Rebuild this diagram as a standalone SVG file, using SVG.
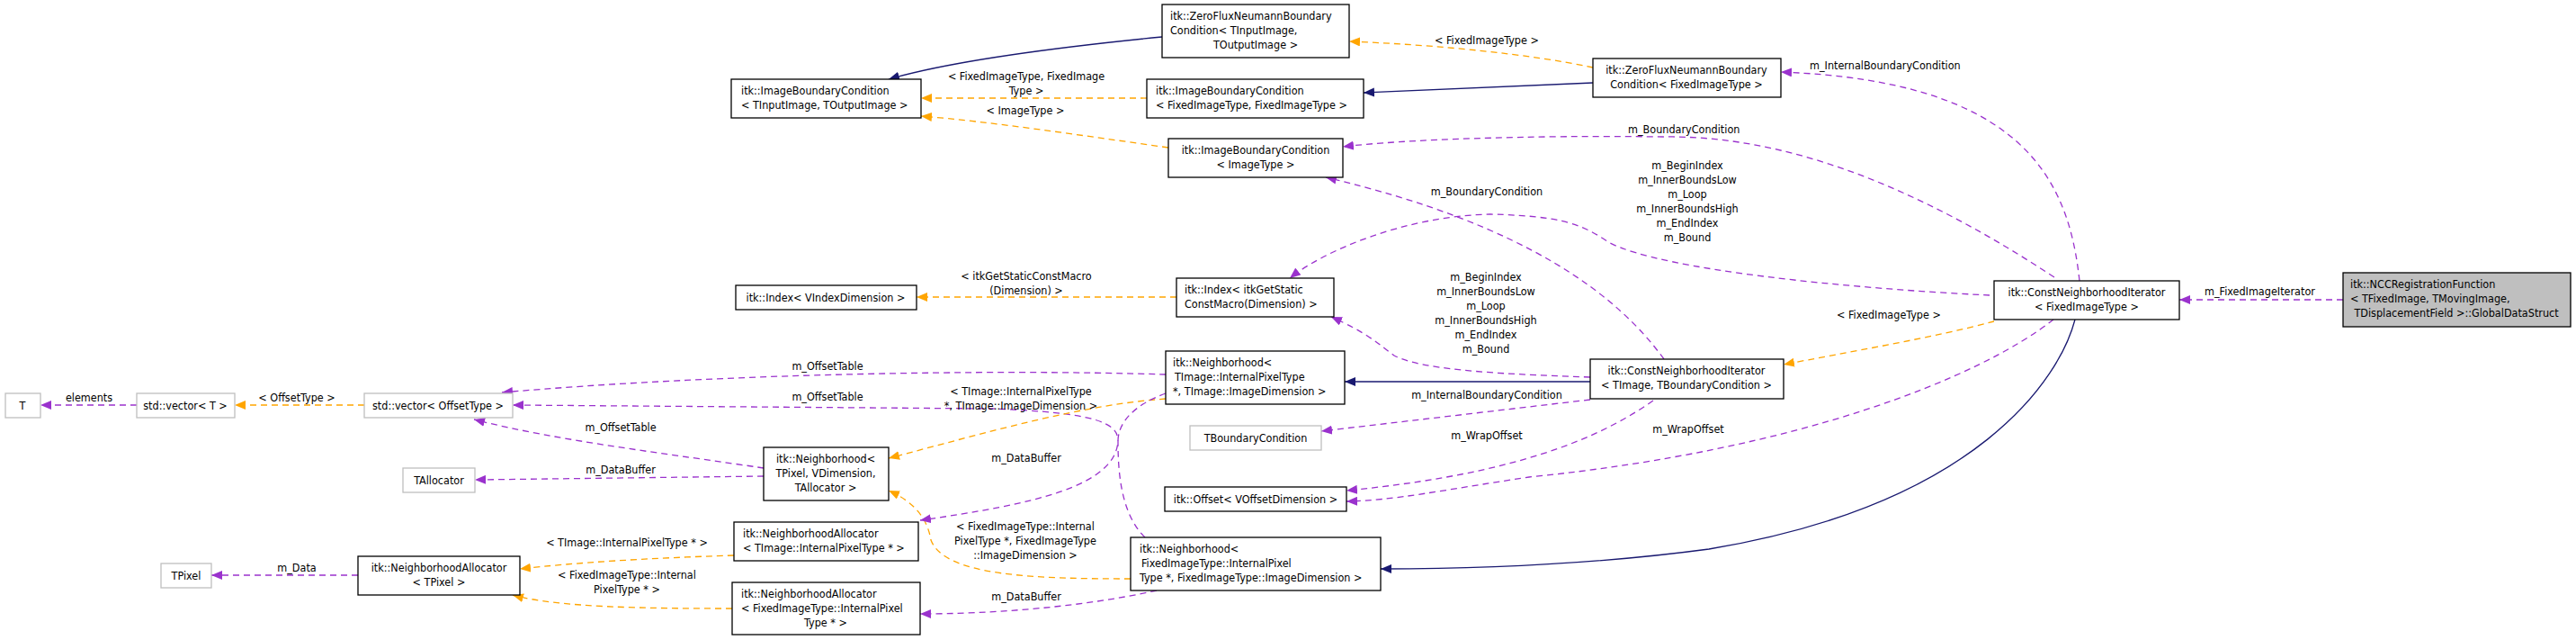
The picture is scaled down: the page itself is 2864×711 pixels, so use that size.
<svg xmlns="http://www.w3.org/2000/svg" width="2864" height="711" viewBox="0 0 2864 711">
<style>
text{font-family:"DejaVu Sans Condensed","DejaVu Sans",sans-serif;font-size:12.5px;fill:#000}
.m{text-anchor:middle}
.n{fill:#fff;stroke:#000;stroke-width:1.3}
.g{fill:#fff;stroke:#bfbfbf;stroke-width:1.3}
.r{fill:#bfbfbf;stroke:#000;stroke-width:1.3}
.e{fill:none;stroke-width:1.3}
.p{stroke:#9a32cd;stroke-dasharray:7,5;marker-end:url(#ap)}
.o{stroke:#ffa500;stroke-dasharray:7,5;marker-end:url(#ao)}
.b{stroke:#191970;marker-end:url(#ab)}
</style>
<defs>
<marker id="ap" markerUnits="userSpaceOnUse" markerWidth="12" markerHeight="10" refX="12" refY="5" orient="auto"><path d="M0,0L12,5L0,10z" fill="#9a32cd"/></marker>
<marker id="ao" markerUnits="userSpaceOnUse" markerWidth="12" markerHeight="10" refX="12" refY="5" orient="auto"><path d="M0,0L12,5L0,10z" fill="#ffa500"/></marker>
<marker id="ab" markerUnits="userSpaceOnUse" markerWidth="12" markerHeight="10" refX="12" refY="5" orient="auto"><path d="M0,0L12,5L0,10z" fill="#191970"/></marker>
</defs>
<rect width="2864" height="711" fill="#fff"/>
<g id="edges">
<path class="e p" d="M2605,333 L2423,333"/>
<path class="e o" d="M2217,357 C2150,375 2050,392 1983,405"/>
<path class="e p" d="M2312,312 C2300,200 2250,90 1980,80"/>
<path class="e p" d="M2284,308 C2150,220 2000,150 1850,152 C1700,150 1560,155 1493,163"/>
<path class="e p" d="M2212,328 C2050,320 1850,300 1790,270 C1760,250 1740,240 1657,238 C1560,240 1470,280 1434,309"/>
<path class="e p" d="M2283,355 C2200,420 2000,500 1700,530 C1600,545 1550,556 1497,557"/>
<path class="e b" d="M2307,355 C2290,420 2200,560 1900,610 C1750,630 1600,632 1535,632"/>
<path class="e b" d="M1768,424 L1495,424"/>
<path class="e p" d="M1768,419 C1650,415 1580,410 1550,395 C1530,380 1520,370 1480,352"/>
<path class="e p" d="M1850,399 C1800,330 1700,250 1474,197"/>
<path class="e p" d="M1768,444 L1469,479"/>
<path class="e p" d="M1838,445 C1760,500 1650,530 1497,545"/>
<path class="e o" d="M1771,75 C1700,60 1600,50 1500,46"/>
<path class="e b" d="M1771,92 L1516,103"/>
<path class="e b" d="M1292,41 C1150,55 1050,70 988,88"/>
<path class="e o" d="M1275,109 L1024,109"/>
<path class="e o" d="M1299,164 C1200,150 1100,135 1024,129"/>
<path class="e o" d="M1308,330 L1019,330"/>
<path class="e p" d="M1296,416 C1100,410 800,415 558,436"/>
<path class="e p" d="M1273,597 C1245,570 1243,520 1243,490 C1243,470 1220,458 1100,454 L570,450"/>
<path class="e o" d="M1296,443 C1200,450 1100,480 988,509"/>
<path class="e o" d="M1257,643 C1150,643 1050,640 1035,600 C1030,570 1010,555 988,545"/>
<path class="e p" d="M1296,437 C1260,450 1243,470 1243,490 C1240,540 1150,560 1023,578"/>
<path class="e p" d="M1286,656 C1200,675 1100,682 1023,682"/>
<path class="e p" d="M849,520 C750,505 620,490 527,466"/>
<path class="e p" d="M849,529 L528,533"/>
<path class="e o" d="M405,450 L261,450"/>
<path class="e p" d="M152,450 L45,450"/>
<path class="e p" d="M398,639 L235,639"/>
<path class="e o" d="M816,617 C720,620 640,625 578,632"/>
<path class="e o" d="M814,676 C720,676 620,675 570,661"/>
<text x="2451" y="328">m_FixedImageIterator</text>
<text class="m" x="2100" y="354">&lt; FixedImageType &gt;</text>
<text x="2012" y="77">m_InternalBoundaryCondition</text>
<text x="1810" y="148">m_BoundaryCondition</text>
<text class="m" x="1876" y="188">m_BeginIndex</text>
<text class="m" x="1876" y="204">m_InnerBoundsLow</text>
<text class="m" x="1876" y="220">m_Loop</text>
<text class="m" x="1876" y="236">m_InnerBoundsHigh</text>
<text class="m" x="1876" y="252">m_EndIndex</text>
<text class="m" x="1876" y="268">m_Bound</text>
<text class="m" x="1653" y="217">m_BoundaryCondition</text>
<text class="m" x="1652" y="312">m_BeginIndex</text>
<text class="m" x="1652" y="328">m_InnerBoundsLow</text>
<text class="m" x="1652" y="344">m_Loop</text>
<text class="m" x="1652" y="360">m_InnerBoundsHigh</text>
<text class="m" x="1652" y="376">m_EndIndex</text>
<text class="m" x="1652" y="392">m_Bound</text>
<text class="m" x="1653" y="443">m_InternalBoundaryCondition</text>
<text class="m" x="1653" y="488">m_WrapOffset</text>
<text class="m" x="1877" y="481">m_WrapOffset</text>
<text class="m" x="1653" y="49">&lt; FixedImageType &gt;</text>
<text class="m" x="1141" y="89">&lt; FixedImageType, FixedImage</text>
<text class="m" x="1141" y="105">Type &gt;</text>
<text class="m" x="1140" y="127">&lt; ImageType &gt;</text>
<text class="m" x="1141" y="311">&lt; itkGetStaticConstMacro</text>
<text class="m" x="1141" y="327">(Dimension) &gt;</text>
<text class="m" x="920" y="411">m_OffsetTable</text>
<text class="m" x="920" y="445">m_OffsetTable</text>
<text class="m" x="1135" y="439">&lt; TImage::InternalPixelType</text>
<text class="m" x="1135" y="455">*, TImage::ImageDimension &gt;</text>
<text class="m" x="1141" y="513">m_DataBuffer</text>
<text class="m" x="1140" y="589">&lt; FixedImageType::Internal</text>
<text class="m" x="1140" y="605">PixelType *, FixedImageType</text>
<text class="m" x="1140" y="621">::ImageDimension &gt;</text>
<text class="m" x="1141" y="667">m_DataBuffer</text>
<text class="m" x="690" y="479">m_OffsetTable</text>
<text class="m" x="690" y="526">m_DataBuffer</text>
<text class="m" x="330" y="446">&lt; OffsetType &gt;</text>
<text class="m" x="99" y="446">elements</text>
<text class="m" x="330" y="635">m_Data</text>
<text class="m" x="697" y="607">&lt; TImage::InternalPixelType * &gt;</text>
<text class="m" x="697" y="643">&lt; FixedImageType::Internal</text>
<text class="m" x="697" y="659">PixelType * &gt;</text>
</g>
<g id="n_global"><rect class="r" x="2605" y="303" width="253" height="60"/><text x="2613" y="320">itk::NCCRegistrationFunction</text><text x="2613" y="336">&lt; TFixedImage, TMovingImage,</text><text class="m" x="2731" y="352">TDisplacementField &gt;::GlobalDataStruct</text></g>
<g id="n_cnif"><rect class="n" x="2217" y="312" width="206" height="43"/><text class="m" x="2320" y="329">itk::ConstNeighborhoodIterator</text><text class="m" x="2320" y="345">&lt; FixedImageType &gt;</text></g>
<g id="n_cnit"><rect class="n" x="1768" y="399" width="215" height="44"/><text class="m" x="1875" y="416">itk::ConstNeighborhoodIterator</text><text class="m" x="1875" y="432">&lt; TImage, TBoundaryCondition &gt;</text></g>
<g id="n_zffix"><rect class="n" x="1771" y="65" width="209" height="43"/><text class="m" x="1875" y="82">itk::ZeroFluxNeumannBoundary</text><text class="m" x="1875" y="98">Condition&lt; FixedImageType &gt;</text></g>
<g id="n_zfgen"><rect class="n" x="1292" y="5" width="208" height="59"/><text x="1301" y="22">itk::ZeroFluxNeumannBoundary</text><text x="1301" y="38">Condition&lt; TInputImage,</text><text class="m" x="1396" y="54">TOutputImage &gt;</text></g>
<g id="n_ibcff"><rect class="n" x="1275" y="88" width="241" height="43"/><text x="1285" y="105">itk::ImageBoundaryCondition</text><text x="1285" y="121">&lt; FixedImageType, FixedImageType &gt;</text></g>
<g id="n_ibcgen"><rect class="n" x="813" y="88" width="211" height="43"/><text x="824" y="105">itk::ImageBoundaryCondition</text><text x="824" y="121">&lt; TInputImage, TOutputImage &gt;</text></g>
<g id="n_ibcimg"><rect class="n" x="1299" y="154" width="194" height="43"/><text class="m" x="1396" y="171">itk::ImageBoundaryCondition</text><text class="m" x="1396" y="187">&lt; ImageType &gt;</text></g>
<g id="n_idxm"><rect class="n" x="1308" y="309" width="175" height="43"/><text x="1317" y="326">itk::Index&lt; itkGetStatic</text><text x="1317" y="342">ConstMacro(Dimension) &gt;</text></g>
<g id="n_idxv"><rect class="n" x="818" y="317" width="201" height="27"/><text class="m" x="918" y="335">itk::Index&lt; VIndexDimension &gt;</text></g>
<g id="n_nbti"><rect class="n" x="1296" y="390" width="199" height="59"/><text x="1304" y="407">itk::Neighborhood&lt;</text><text x="1306" y="423">TImage::InternalPixelType</text><text x="1304" y="439">*, TImage::ImageDimension &gt;</text></g>
<g id="n_tbc"><rect class="g" x="1323" y="473" width="146" height="27"/><text class="m" x="1396" y="491">TBoundaryCondition</text></g>
<g id="n_off"><rect class="n" x="1295" y="541" width="202" height="27"/><text class="m" x="1396" y="559">itk::Offset&lt; VOffsetDimension &gt;</text></g>
<g id="n_nbfix"><rect class="n" x="1257" y="597" width="278" height="59"/><text x="1267" y="614">itk::Neighborhood&lt;</text><text x="1269" y="630">FixedImageType::InternalPixel</text><text x="1267" y="646">Type *, FixedImageType::ImageDimension &gt;</text></g>
<g id="n_nbtp"><rect class="n" x="849" y="497" width="139" height="59"/><text class="m" x="918" y="514">itk::Neighborhood&lt;</text><text class="m" x="918" y="530">TPixel, VDimension,</text><text class="m" x="918" y="546">TAllocator &gt;</text></g>
<g id="n_nati"><rect class="n" x="816" y="580" width="205" height="43"/><text x="826" y="597">itk::NeighborhoodAllocator</text><text x="826" y="613">&lt; TImage::InternalPixelType * &gt;</text></g>
<g id="n_nafix"><rect class="n" x="814" y="647" width="209" height="58"/><text x="824" y="664">itk::NeighborhoodAllocator</text><text x="824" y="680">&lt; FixedImageType::InternalPixel</text><text class="m" x="918" y="696">Type * &gt;</text></g>
<g id="n_natp"><rect class="n" x="398" y="618" width="180" height="43"/><text class="m" x="488" y="635">itk::NeighborhoodAllocator</text><text class="m" x="488" y="651">&lt; TPixel &gt;</text></g>
<g id="n_tpixel"><rect class="g" x="179" y="626" width="56" height="27"/><text class="m" x="207" y="644">TPixel</text></g>
<g id="n_talloc"><rect class="g" x="448" y="520" width="80" height="27"/><text class="m" x="488" y="538">TAllocator</text></g>
<g id="n_vecoff"><rect class="g" x="405" y="437" width="165" height="27"/><text class="m" x="487" y="455">std::vector&lt; OffsetType &gt;</text></g>
<g id="n_vect"><rect class="g" x="152" y="437" width="109" height="27"/><text class="m" x="206" y="455">std::vector&lt; T &gt;</text></g>
<g id="n_t"><rect class="g" x="6" y="437" width="39" height="27"/><text class="m" x="25" y="455">T</text></g>
</svg>
